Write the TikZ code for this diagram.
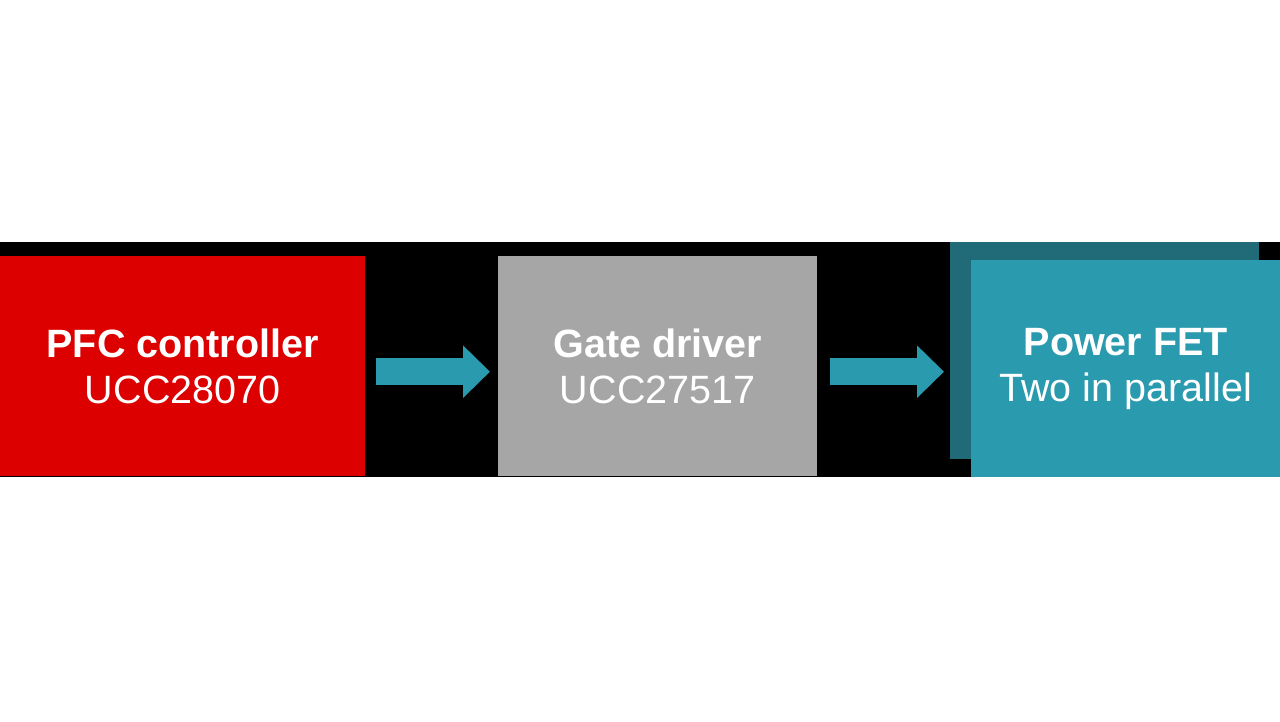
\documentclass[tikz,border=0pt]{standalone}
\usepackage{fontspec}
\setmainfont{Liberation Sans}
\usetikzlibrary{arrows.meta}
\definecolor{pfcred}{HTML}{DD0000}
\definecolor{drvgray}{HTML}{A6A6A6}
\definecolor{fetteal}{HTML}{2A9AAF}
\definecolor{fetdark}{HTML}{216B78}
\begin{document}
\begin{tikzpicture}[x=1pt, y=-1pt,
    block/.style={anchor=north west, inner sep=0, text=white, align=center,
      font=\fontsize{39.5}{46}\selectfont},
    flow/.style={draw=fetteal, line width=27pt, -{Triangle[length=27pt,width=51pt]}}]
        \useasboundingbox (0,0) rectangle (1280,721);
        \fill [white] (0,0) rectangle (1280,721);
        \fill [black] (0,242) rectangle (1280,477);
        \node [block, fill=pfcred, minimum width=365pt, minimum height=220pt] (pfc) at (0,256) {\textbf{PFC controller}\\UCC28070};
        \node [block, fill=drvgray, minimum width=319pt, minimum height=220pt] (gate) at (498,256) {\textbf{Gate driver}\\UCC27517};
        \node [block, fill=fetdark, minimum width=309pt, minimum height=217pt] (fetback) at (950,242) {};
        \node [block, fill=fetteal, minimum width=309pt, minimum height=217pt] (fet) at (971,260) {\textbf{Power FET}\\Two in parallel};
        \coordinate (out1) at ([yshift=-5.5pt]pfc.east);
        \coordinate (out2) at ([yshift=-5.5pt]gate.east);
        \draw [flow, shorten <=11pt, shorten >=8pt] (out1) -- (out1 -| gate.west);
        \draw [flow, shorten <=13pt, shorten >=6pt] (out2) -- (out2 -| fetback.west);
      \end{tikzpicture}
\end{document}
